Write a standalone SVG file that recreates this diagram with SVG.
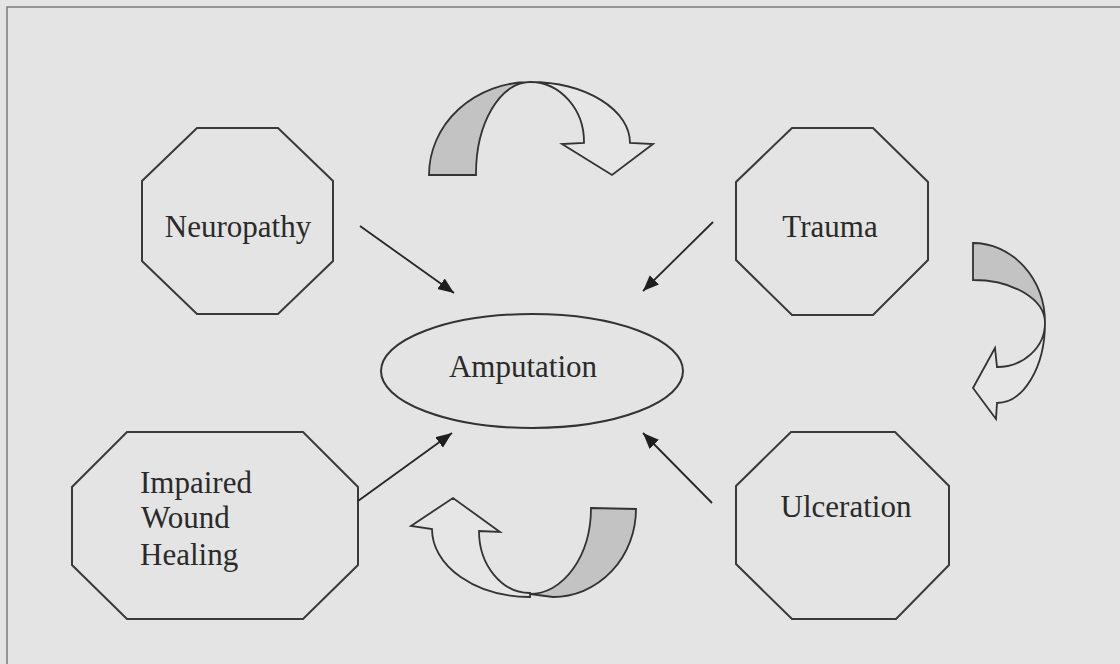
<svg xmlns="http://www.w3.org/2000/svg" width="1120" height="664" viewBox="0 0 1120 664">
  <defs>
    <style>
      .bg { fill: #e4e4e4; }
      .frame { fill: none; stroke: #7a7a7a; stroke-width: 1.5; }
      .oct { fill: none; stroke: #3a3a3a; stroke-width: 2; }
      .ell { fill: none; stroke: #333333; stroke-width: 2; }
      .lbl { font-family: "Liberation Serif", "Times New Roman", serif; font-size: 31px; fill: #2a2a2a; }
      .conn { stroke: #262626; stroke-width: 1.8; fill: none; }
      .barrow-white { fill: #e6e6e6; stroke: #333333; stroke-width: 1.8; stroke-linejoin: miter; }
      .barrow-gray { fill: #c3c3c3; stroke: #333333; stroke-width: 1.8; stroke-linejoin: miter; }
    </style>
    <marker id="ah" markerUnits="userSpaceOnUse" markerWidth="18" markerHeight="14" refX="16" refY="6.5" orient="auto">
      <path d="M0,0 L16,6.5 L0,13 z" fill="#1e1e1e"/>
    </marker>
  </defs>

  <rect class="bg" x="0" y="0" width="1120" height="664"/>
  <rect class="frame" x="7" y="7" width="1130" height="680"/>

  <g id="neuropathy">
    <polygon class="oct" points="197,128 278,128 333,181 333,261 278,314 197,314 142,261 142,181"/>
    <text class="lbl" x="238" y="237" text-anchor="middle">Neuropathy</text>
  </g>

  <g id="trauma">
    <polygon class="oct" points="792,128 873,128 928,182 928,260 873,315 792,315 736,260 736,182"/>
    <text class="lbl" x="830" y="237" text-anchor="middle">Trauma</text>
  </g>

  <g id="amputation">
    <ellipse class="ell" cx="532" cy="371" rx="151" ry="57"/>
    <text class="lbl" x="523" y="377" text-anchor="middle">Amputation</text>
  </g>

  <g id="impaired-wound-healing">
    <polygon class="oct" points="127,432 303,432 358,487 358,565 303,619 127,619 72,565 72,487"/>
    <text class="lbl" x="140" y="493">Impaired</text>
    <text class="lbl" x="141" y="528">Wound</text>
    <text class="lbl" x="140" y="565">Healing</text>
  </g>

  <g id="ulceration">
    <polygon class="oct" points="791,432 895,432 949,486 949,565 896,619 792,619 736,564 736,486"/>
    <text class="lbl" x="846" y="517" text-anchor="middle">Ulceration</text>
  </g>

  <g id="cycle-arrows">
    <g id="arrow-top">
      <path class="barrow-gray" d="M429,175 A101 93 0 0 1 530,82 A54 92 0 0 0 476,175 Z"/>
      <path class="barrow-white" d="M530,82 A100 61 0 0 1 630,143 L653,144 L612,175 L562,144 L584,143 A54 60 0 0 0 530,82 Z"/>
    </g>
    <g id="arrow-right">
      <path class="barrow-gray" d="M973,243 A72 80 0 0 1 1045,323 A72 43 0 0 0 973,280 Z"/>
      <path class="barrow-white" d="M1045,323 A48 80 0 0 1 997,403 L996,419 L973,388 L995,348 L997,367 A48 44 0 0 0 1045,323 Z"/>
    </g>
    <g id="arrow-bottom">
      <path class="barrow-white" d="M530,597 A98 68 0 0 1 432,529 L411,526 L453,498 L500,532 L479,531 A51 62 0 0 0 530,593 Z"/>
      <path class="barrow-gray" d="M591,508 L636,509 A83 88 0 0 1 553,597 L530,594 A61 86 0 0 0 591,508 Z"/>
    </g>
  </g>

  <g id="connectors">
    <line class="conn" x1="360" y1="226" x2="454" y2="293" marker-end="url(#ah)"/>
    <line class="conn" x1="713" y1="222" x2="643" y2="291" marker-end="url(#ah)"/>
    <line class="conn" x1="358" y1="501" x2="452" y2="433" marker-end="url(#ah)"/>
    <line class="conn" x1="712" y1="503" x2="643" y2="433" marker-end="url(#ah)"/>
  </g>
</svg>
